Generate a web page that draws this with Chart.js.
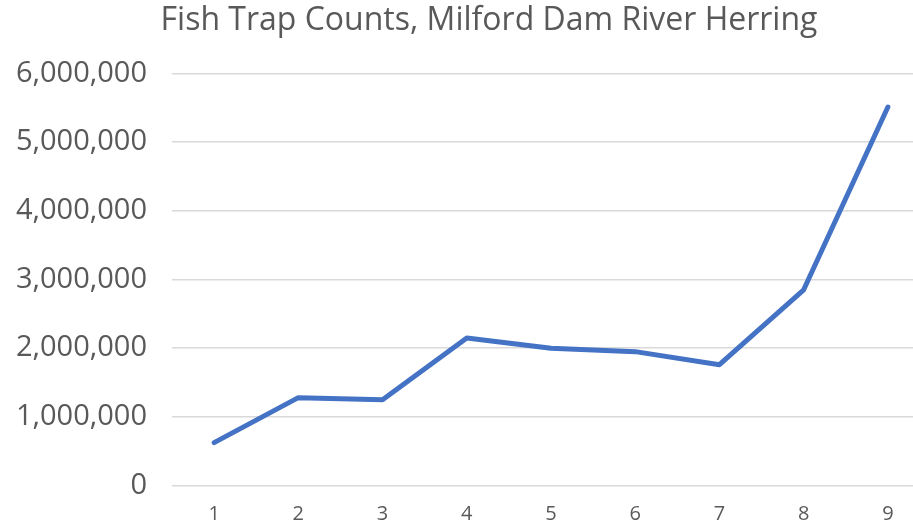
<!DOCTYPE html>
<html>
<head>
<meta charset="utf-8">
<script src="https://cdn.jsdelivr.net/npm/chart.js@4"></script>
<style>
  html, body { margin: 0; padding: 0; background: #fff; }
  #wrap { width: 913px; height: 528px; overflow: hidden; }
</style>
</head>
<body>
<div id="wrap"><canvas id="chart" width="978" height="528"></canvas></div>
<script>
const years = ['1', '2', '3', '4', '5', '6', '7', '8', '9'];
const herringCounts = [625000, 1280000, 1250000, 2150000, 2000000, 1950000, 1760000, 2850000, 5510000];
const yTicks = [0, 1000000, 2000000, 3000000, 4000000, 5000000, 6000000];

const textColor = '#595959';
const font = "'Open Sans', 'Liberation Sans', sans-serif";

// the original chart was cropped on the right, so its title sits right of the visible centre
const shiftTitle = {
  id: 'shiftTitle',
  afterLayout(chart) {
    const t = chart.titleBlock;
    if (t) t.left = 48;
  },
};

new Chart(document.getElementById('chart'), {
  type: 'line',
  data: {
    labels: years,
    datasets: [
      {
        label: 'River Herring',
        data: herringCounts,
        borderColor: '#4472C4',
        borderWidth: 5,
        pointRadius: 0,
        tension: 0,
        borderCapStyle: 'round',
        borderJoinStyle: 'round',
      },
    ],
  },
  options: {
    responsive: false,
    animation: false,
    layout: { padding: { left: 0, right: 48, top: 0, bottom: 0 } },
    plugins: {
      legend: { display: false },
      tooltip: { enabled: false },
      title: {
        display: true,
        text: 'Fish Trap Counts, Milford Dam River Herring',
        color: textColor,
        font: { family: font, size: 32, weight: 'normal' },
        padding: { top: 2, bottom: 33 },
      },
    },
    scales: {
      x: {
        offset: true,
        grid: { display: false, drawTicks: false },
        border: { display: false },
        ticks: {
          color: textColor,
          font: { family: font, size: 20 },
          padding: 17,
        },
        afterFit: (scale) => {
          scale.height = 42;
        },
      },
      y: {
        min: 0,
        max: 6000000,
        afterBuildTicks: (axis) => {
          axis.ticks = yTicks.map((v) => ({ value: v }));
        },
        grid: { color: '#d9d9d9', lineWidth: 1.5, drawTicks: false },
        border: { display: false },
        ticks: {
          color: textColor,
          font: { family: font, size: 29 },
          padding: 25,
          callback: (v) => v.toLocaleString('en-US'),
        },
        afterFit: (scale) => {
          scale.width = 172;
        },
      },
    },
  },
  plugins: [shiftTitle],
});
</script>
</body>
</html>
